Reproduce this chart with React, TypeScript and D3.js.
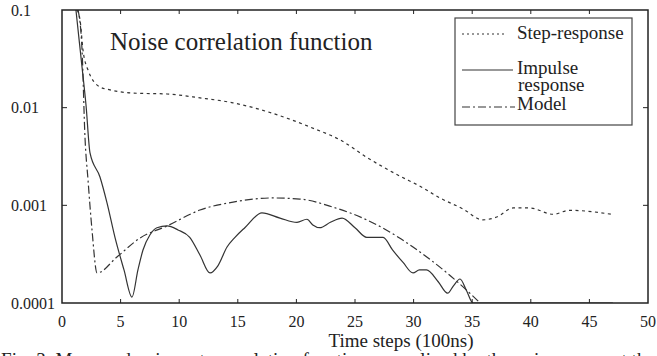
import React from "react";
import * as d3 from "d3";

const xTicks = [0, 5, 10, 15, 20, 25, 30, 35, 40, 45, 50];
const yTicks = [0.1, 0.01, 0.001, 0.0001];
const yTickLabels = ["0.1", "0.01", "0.001", "0.0001"];

const stepX = [1.28, 1.54, 1.79, 2.22, 3.24, 4.1, 6.06, 8.96, 11.77, 14.59, 17.0, 19.2, 21.5, 23.7, 26.0, 28.8, 30.5, 32.25, 34.2, 35.9, 37.1, 38.5, 39.9, 41.9, 43.3, 46.9];
const stepY = [0.1, 0.079, 0.039, 0.0243, 0.0163, 0.0152, 0.0141, 0.0138, 0.0126, 0.0112, 0.0095, 0.0078, 0.0061, 0.0047, 0.0031, 0.002, 0.00158, 0.00119, 0.00092, 0.00071, 0.00076, 0.00094, 0.00094, 0.00081, 0.00089, 0.00081];

const impX = [1.19, 1.28, 1.71, 2.05, 2.39, 3.24, 3.84, 4.52, 5.29, 5.97, 6.48, 6.91, 7.51, 8.1, 8.96, 9.9, 10.9, 11.77, 12.63, 13.3, 14.08, 14.76, 15.6, 17.06, 18.6, 20.05, 20.9, 21.4, 22.0, 22.9, 23.9, 25.0, 26.0, 26.5, 27.4, 28.2, 29.1, 29.95, 30.5, 31.1, 32.1, 32.9, 33.4, 33.96, 34.5, 35.07, 36, 47];
const impY = [0.1, 0.079, 0.026, 0.0106, 0.00344, 0.00195, 0.00106, 0.00047, 0.000218, 0.000115, 0.000218, 0.000349, 0.0005, 0.00059, 0.000615, 0.00056, 0.00047, 0.00031, 0.000203, 0.00024, 0.000374, 0.00047, 0.00059, 0.000836, 0.00074, 0.00067, 0.00072, 0.00063, 0.00059, 0.00067, 0.00074, 0.00059, 0.00047, 0.00047, 0.00047, 0.00035, 0.00026, 0.000203, 0.000218, 0.000218, 0.000165, 0.000126, 0.00015, 0.000176, 0.000135, 0.0001, 0.0001, 0.0001];

const modelX = [1.37, 1.71, 1.96, 2.22, 2.56, 2.99, 4.69, 6.66, 8.96, 11.77, 14.6, 18.0, 20.3, 23.1, 26.0, 28.8, 29.95, 32.85, 34.8, 35.67];
const modelY = [0.1, 0.039, 0.005, 0.00182, 0.00056, 0.000203, 0.000296, 0.000463, 0.000615, 0.000895, 0.00108, 0.00119, 0.00116, 0.00096, 0.00071, 0.000463, 0.000374, 0.000203, 0.000126, 0.0001];

const title = "Noise correlation function";
const xLabel = "Time steps (100ns)";
const caption = "Fig. 3. Measured noise autocorrelation function normalized by the noise power at the";
const legendLabels = ["Step-response", "Impulse", "response", "Model"];

const W = 657, H = 356;
const L = 62, R = 648, T = 10, B = 303;
const ink = "#222";
const font = '"Liberation Serif", "DejaVu Serif", serif';

export default function App() {
  const x = d3.scaleLinear().domain([0, 50]).range([L, R]);
  const y = d3.scaleLog().domain([0.0001, 0.1]).range([B, T]);
  const line = d3
    .line<[number, number]>()
    .x((d) => x(d[0]))
    .y((d) => y(d[1]))
    .curve(d3.curveMonotoneX);
  const zip = (a: number[], b: number[]) => a.map((v, i) => [v, b[i]] as [number, number]);
  const ts = { fontFamily: font };

  return (
    <svg width={W} height={H} style={{ position: "absolute", left: 0, top: 0, background: "#fff", fontFamily: font }}>
      <defs>
        <clipPath id="plot">
          <rect x={L} y={T} width={R - L} height={B - T} />
        </clipPath>
      </defs>
      <g clipPath="url(#plot)" fill="none" stroke="#333" strokeWidth={1.2}>
        <path d={line(zip(stepX, stepY)) || ""} strokeDasharray="3,3.5" />
        <path d={line(zip(impX, impY)) || ""} />
        <path d={line(zip(modelX, modelY)) || ""} strokeDasharray="8,3,2,3" />
      </g>
      <rect x={L} y={T} width={R - L} height={B - T} fill="none" stroke={ink} strokeWidth={1.5} />
      {xTicks.slice(1, -1).map((t) => (
        <g key={"xt" + t} stroke={ink} strokeWidth={1}>
          <line x1={x(t)} x2={x(t)} y1={B} y2={B - 4} />
          <line x1={x(t)} x2={x(t)} y1={T} y2={T + 4} />
        </g>
      ))}
      {xTicks.map((t) => (
        <text key={"xl" + t} x={x(t)} y={327} textAnchor="middle" fontSize={16} fill={ink} style={ts}>
          {t}
        </text>
      ))}
      {yTicks.slice(1, -1).map((t) => (
        <g key={"yt" + t} stroke={ink} strokeWidth={1}>
          <line x1={L} x2={L + 5} y1={y(t)} y2={y(t)} />
          <line x1={R} x2={R - 5} y1={y(t)} y2={y(t)} />
        </g>
      ))}
      {yTicks.map((t, i) => (
        <text key={"yl" + t} x={11} y={y(t) + 5.5} textAnchor="start" fontSize={16} fill={ink} style={ts}>
          {yTickLabels[i]}
        </text>
      ))}
      <text x={110} y={50} fontSize={25} fill={ink} style={ts}>
        {title}
      </text>
      <text x={401} y={347} textAnchor="middle" fontSize={19} fill={ink} style={ts}>
        {xLabel}
      </text>
      <text x={1} y={366} fontSize={19} fill={ink} textLength={654} lengthAdjust="spacing" style={ts}>
        {caption}
      </text>
      <rect x={455} y={18} width={177} height={107} fill="#fff" stroke="#444" strokeWidth={1.2} />
      <g stroke="#333" strokeWidth={1.2}>
        <line x1={462} x2={505} y1={34} y2={34} strokeDasharray="2,3" />
        <line x1={462} x2={513} y1={70} y2={70} />
        <line x1={462} x2={515} y1={107} y2={107} strokeDasharray="8,3,2,3" />
      </g>
      <g fontSize={19} fill={ink} style={ts}>
        <text x={517} y={39}>{legendLabels[0]}</text>
        <text x={517} y={74}>{legendLabels[1]}</text>
        <text x={518} y={91}>{legendLabels[2]}</text>
        <text x={517} y={110}>{legendLabels[3]}</text>
      </g>
    </svg>
  );
}
